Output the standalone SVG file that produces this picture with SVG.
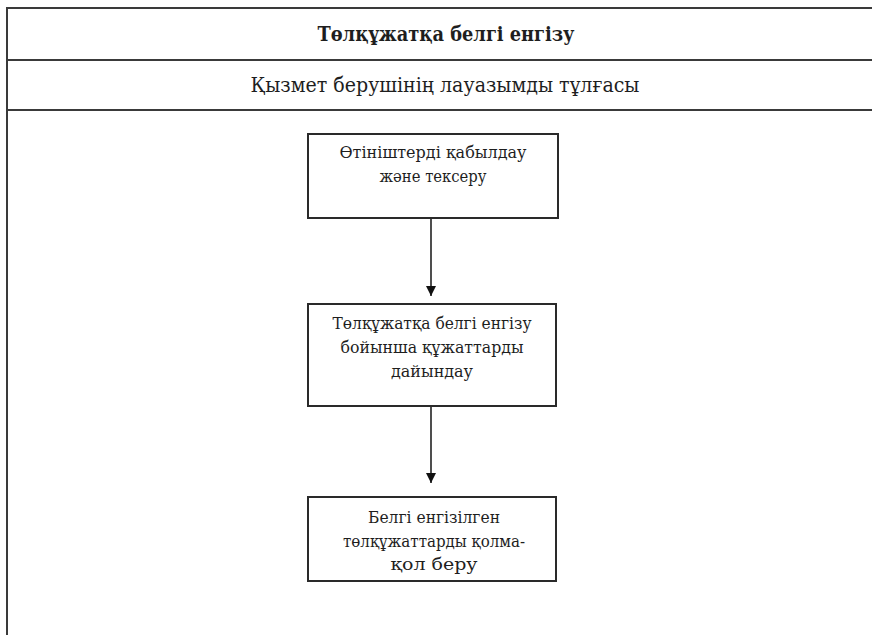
<svg xmlns="http://www.w3.org/2000/svg" width="872" height="635" viewBox="0 0 872 635">
<style>
.frame{stroke:#3a3a3a;stroke-width:2;fill:none}
.box{fill:#fff;stroke:#2a2a2a;stroke-width:2}
.t{font-family:"DejaVu Serif","Liberation Serif",serif;fill:#1e1e1e;text-anchor:middle}
.h1{font-size:20px;font-weight:bold}
.h2{font-size:20px}
.n{font-size:16px}
.conn{stroke:#222;stroke-width:1.6;fill:none}
</style>
<defs>
<marker id="ah" viewBox="0 0 10 10" refX="10" refY="5" markerWidth="10" markerHeight="10" markerUnits="userSpaceOnUse" orient="auto">
<path d="M0,0 L10,5 L0,10 z" fill="#111"/>
</marker>
</defs>
<rect width="872" height="635" fill="#fff"/>
<g id="frame">
<line class="frame" x1="7" y1="8" x2="872" y2="8"/>
<line class="frame" x1="7" y1="60" x2="872" y2="60"/>
<line class="frame" x1="7" y1="110" x2="872" y2="110"/>
<line class="frame" x1="7" y1="7" x2="7" y2="635"/>
<text class="t h1" x="446" y="41" textLength="257" lengthAdjust="spacingAndGlyphs">Төлқұжатқа белгі енгізу</text>
<text class="t h2" x="445" y="92" textLength="389" lengthAdjust="spacingAndGlyphs">Қызмет берушінің лауазымды тұлғасы</text>
</g>
<g id="connectors">
<line class="conn" x1="431" y1="218" x2="431" y2="296" marker-end="url(#ah)"/>
<line class="conn" x1="431" y1="406" x2="431" y2="483" marker-end="url(#ah)"/>
</g>
<g id="n1">
<rect class="box" x="308" y="134" width="250" height="84"/>
<text class="t n" x="433" y="158" textLength="187" lengthAdjust="spacingAndGlyphs">Өтініштерді қабылдау</text>
<text class="t n" x="433" y="182" textLength="107" lengthAdjust="spacingAndGlyphs">және тексеру</text>
</g>
<g id="n2">
<rect class="box" x="308" y="304" width="248" height="102"/>
<text class="t n" x="432" y="329" textLength="199" lengthAdjust="spacingAndGlyphs">Төлқұжатқа белгі енгізу</text>
<text class="t n" x="432" y="353" textLength="183" lengthAdjust="spacingAndGlyphs">бойынша құжаттарды</text>
<text class="t n" x="432" y="377" textLength="82" lengthAdjust="spacingAndGlyphs">дайындау</text>
</g>
<g id="n3">
<rect class="box" x="308" y="497" width="248" height="84"/>
<text class="t n" x="434" y="523" textLength="132" lengthAdjust="spacingAndGlyphs">Белгі енгізілген</text>
<text class="t n" x="434" y="547" textLength="182" lengthAdjust="spacingAndGlyphs">төлқұжаттарды қолма-</text>
<text class="t n" x="434" y="570" textLength="87" lengthAdjust="spacingAndGlyphs">қол беру</text>
</g>
</svg>
